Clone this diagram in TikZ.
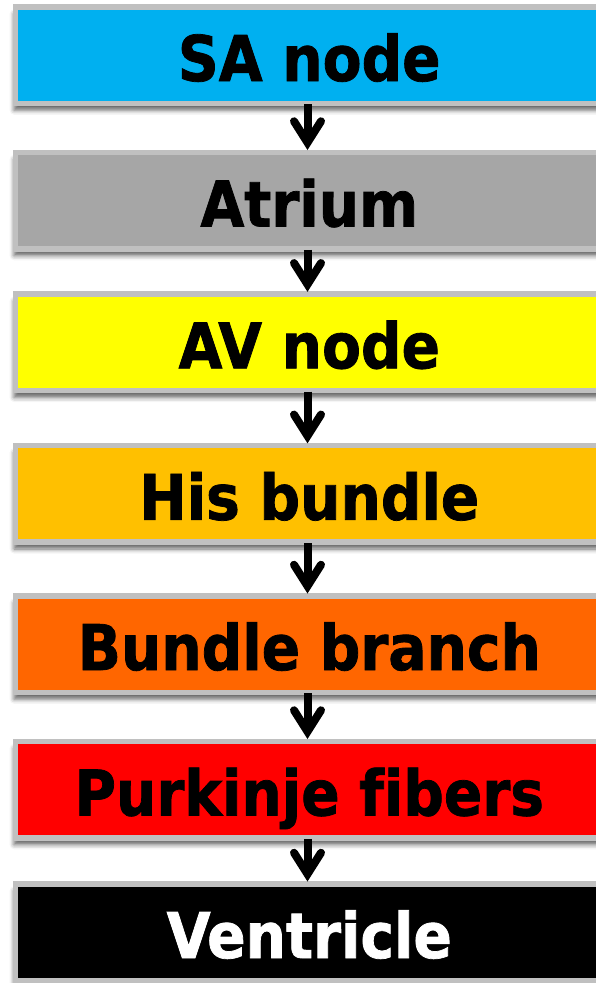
\documentclass[tikz,border=0pt]{standalone}
\usepackage{fontspec}
\setmainfont{DejaVu Sans Condensed}[Ligatures=CommonOff, BoldFeatures={FakeBold=1.2}]
\usetikzlibrary{shadows.blur,calc}
\definecolor{bordergray}{HTML}{C0C0C0}
\definecolor{cSA}{HTML}{00B0F0}
\definecolor{cAtrium}{HTML}{A6A6A6}
\definecolor{cAV}{HTML}{FFFF00}
\definecolor{cHis}{HTML}{FFC000}
\definecolor{cBundle}{HTML}{FF6600}
\definecolor{cPurk}{HTML}{FF0000}
\definecolor{cVent}{HTML}{000000}
\begin{document}
\begin{tikzpicture}[x=1pt,y=-1pt,
  box/.style={draw=bordergray, line width=5.5pt, minimum width=587.4pt,
    minimum height=96.5pt, inner sep=0pt, outer sep=0pt,
    font=\fontsize{63}{70}\selectfont\bfseries, text height=52pt, text depth=0pt,
    blur shadow={shadow xshift=-1.5pt, shadow yshift=-7pt, shadow blur radius=4.5pt, shadow opacity=60}},
  shaft/.style={line width=8pt, line cap=butt},
  chevron/.style={line width=8pt, line cap=round, line join=miter}]
\useasboundingbox (0,0) rectangle (596,983);
\clip (0,0) rectangle (596,983);
\node[box, fill=cSA]     (sa)  at (309.3,55)    {SA node};
\node[box, fill=cAtrium] (at)  at (309.3,200.5) {Atrium};
\node[box, fill=cAV]     (av)  at (309.3,342.3) {AV node};
\node[box, fill=cHis]    (his) at (309.3,493.8) {His bundle};
\node[box, fill=cBundle] (bb)  at (309.3,644)   {Bundle branch};
\node[box, fill=cPurk]   (pf)  at (309.3,789.5) {Purkinje fibers};
\node[box, fill=cVent, text=white] (ve) at (309.3,932) {Ventricle};
\foreach \a/\b in {sa/at, at/av, av/his, his/bb, bb/pf, pf/ve}{
  \draw[shaft] ($(\a.south)+(-1.8,1)$) -- ($(\b.north)+(-1.8,-12)$);
  \draw[chevron] ($(\b.north)+(-15.3,-31)$) -- ($(\b.north)+(-1.8,-9.7)$) -- ($(\b.north)+(11.7,-31)$);
}
\end{tikzpicture}
\end{document}
